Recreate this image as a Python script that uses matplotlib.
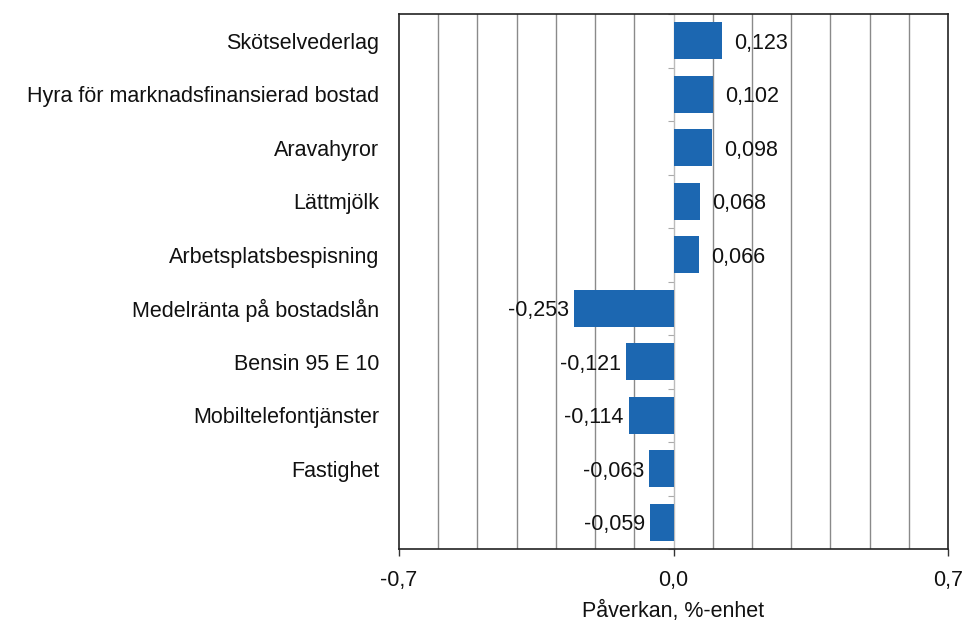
import matplotlib
matplotlib.use("Agg")
import matplotlib.pyplot as plt
import numpy as np

categories = ["Skötselvederlag", "Hyra för marknadsfinansierad bostad", "Aravahyror",
              "Lättmjölk", "Arbetsplatsbespisning", "Medelränta på bostadslån",
              "Bensin 95 E 10", "Mobiltelefontjänster", "Fastighet", ""]
values = [0.123, 0.102, 0.098, 0.068, 0.066, -0.253, -0.121, -0.114, -0.063, -0.059]
value_labels = ["0,123", "0,102", "0,098", "0,068", "0,066", "-0,253", "-0,121", "-0,114", "-0,063", "-0,059"]
xtick_values = [-0.7, 0.0, 0.7]
xtick_labels = ["-0,7", "0,0", "0,7"]
xlabel = "Påverkan, %-enhet"

plt.rcParams['font.family'] = ['Liberation Sans', 'DejaVu Sans']
FS = 15.5

fig = plt.figure(figsize=(9.66, 6.23), dpi=100)
ax = fig.add_axes([399/966, 1-549/623, (948-399)/966, (549-14)/623])

y = np.arange(len(values))
bar_color = "#1c67b1"
ax.barh(y, values, height=0.7, color=bar_color, zorder=3)
ax.set_ylim(len(values)-0.5, -0.5)
ax.set_xlim(-0.7, 0.7)

# gridlines every 0.1
ax.set_xticks(np.round(np.arange(-0.7, 0.71, 0.1), 2), minor=True)
ax.grid(True, axis='x', which='minor', color="#8a8a8a", linewidth=1.0, zorder=0)
ax.tick_params(axis='x', which='minor', length=0)
ax.set_xticks(xtick_values)
ax.set_xticklabels(xtick_labels, fontsize=FS, color="#111111")
ax.tick_params(axis='x', which='major', length=5, width=1, color="#333333", pad=10)

ax.set_yticks(y)
ax.set_yticklabels(categories, fontsize=FS, color="#111111")
ax.tick_params(axis='y', length=0, pad=14)

for s in ax.spines.values():
    s.set_color("#222222")
    s.set_linewidth(1.2)

# zero axis with category boundary ticks (pointing left)
sec = ax.secondary_yaxis(0.5)
sec.set_yticks(np.arange(len(values)+1) - 0.5)
sec.set_yticklabels([])
sec.yaxis.set_ticks_position('left')
sec.tick_params(axis='y', length=4, color="#aaaaaa", direction='out')
for s in sec.spines.values():
    s.set_color("#bbbbbb")
    s.set_linewidth(1.0)

for yi, v, lab in zip(y, values, value_labels):
    if v >= 0:
        ax.annotate(lab, (v, yi), xytext=(12, 0), textcoords='offset pixels',
                    ha='left', va='center_baseline', fontsize=FS, color="#111111", zorder=4)
    else:
        ax.annotate(lab, (v, yi), xytext=(-5, 0), textcoords='offset pixels',
                    ha='right', va='center_baseline', fontsize=FS, color="#111111", zorder=4)

ax.set_xlabel(xlabel, fontsize=FS, labelpad=7, color="#111111")

fig.savefig("out.png", dpi=100)
